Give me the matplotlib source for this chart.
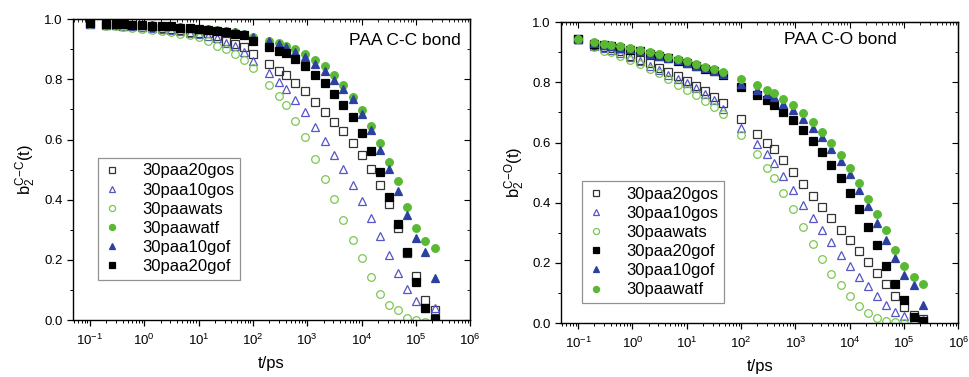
import numpy as np
import matplotlib.pyplot as plt
from matplotlib.ticker import LogLocator, MultipleLocator, NullFormatter

plt.rcParams['font.family'] = ['Liberation Sans', 'DejaVu Sans']
plt.rcParams['mathtext.fontset'] = 'custom'
plt.rcParams['mathtext.rm'] = 'Liberation Sans'
plt.rcParams['mathtext.it'] = 'Liberation Sans'

# time grid (ps)
t_cc = [0.1, 0.2, 0.3, 0.4, 0.6, 0.9, 1.4, 2.1, 3.1, 4.6, 6.8, 10, 14.7, 21.5, 31.6, 46.4, 68, 100,
        200, 300, 400, 600, 900, 1400, 2100, 3100, 4600, 6800,
        1e4, 1.5e4, 2.2e4, 3.2e4, 4.7e4, 6.8e4, 1e5, 1.5e5, 2.2e5]
t_co = [0.1, 0.2, 0.3, 0.4, 0.6, 0.9, 1.4, 2.1, 3.1, 4.6, 6.8, 10, 14.7, 21.5, 31.6, 46.4, 100,
        200, 300, 400, 600, 900, 1400, 2100, 3100, 4600, 6800,
        1e4, 1.5e4, 2.2e4, 3.2e4, 4.7e4, 6.8e4, 1e5, 1.5e5, 2.2e5]

# C-C bond
cc_20gos = [0.985, 0.982, 0.980, 0.979, 0.977, 0.975, 0.973, 0.970, 0.967, 0.963, 0.959, 0.954, 0.953, 0.944, 0.926, 0.918, 0.907, 0.884,
            0.851, 0.829, 0.814, 0.789, 0.762, 0.726, 0.692, 0.660, 0.630, 0.588,
            0.548, 0.501, 0.448, 0.385, 0.305, 0.222, 0.146, 0.067, 0.033]
cc_10gos = [0.985, 0.982, 0.980, 0.978, 0.976, 0.974, 0.971, 0.968, 0.964, 0.960, 0.955, 0.950, 0.945, 0.937, 0.922, 0.911, 0.890, 0.862,
            0.820, 0.793, 0.767, 0.732, 0.691, 0.643, 0.596, 0.549, 0.501, 0.448,
            0.397, 0.340, 0.280, 0.216, 0.157, 0.104, 0.063, 0.039, 0.039]
cc_wats = [0.985, 0.978, 0.976, 0.973, 0.971, 0.968, 0.965, 0.961, 0.957, 0.952, 0.947, 0.940, 0.927, 0.912, 0.901, 0.886, 0.865, 0.837,
           0.782, 0.745, 0.714, 0.663, 0.608, 0.537, 0.469, 0.401, 0.333, 0.266,
           0.205, 0.142, 0.086, 0.050, 0.033, 0.006, 0.000, -0.005, -0.010]
cc_watf = [0.987, 0.984, 0.984, 0.983, 0.982, 0.981, 0.980, 0.979, 0.977, 0.974, 0.972, 0.969, 0.966, 0.963, 0.960, 0.956, 0.952, 0.942,
           0.929, 0.920, 0.911, 0.901, 0.885, 0.865, 0.843, 0.813, 0.782, 0.743,
           0.698, 0.646, 0.588, 0.527, 0.462, 0.377, 0.307, 0.264, 0.238]
cc_10gof = [0.987, 0.984, 0.984, 0.983, 0.982, 0.981, 0.980, 0.979, 0.977, 0.974, 0.972, 0.969, 0.966, 0.963, 0.960, 0.956, 0.952, 0.942,
            0.927, 0.917, 0.909, 0.892, 0.874, 0.851, 0.828, 0.798, 0.767, 0.734,
            0.685, 0.632, 0.565, 0.501, 0.429, 0.349, 0.274, 0.225, 0.139]
cc_20gof = [0.987, 0.984, 0.984, 0.983, 0.982, 0.981, 0.979, 0.978, 0.976, 0.972, 0.970, 0.967, 0.963, 0.961, 0.957, 0.952, 0.948, 0.929,
            0.909, 0.896, 0.887, 0.867, 0.845, 0.816, 0.787, 0.753, 0.715, 0.676,
            0.621, 0.563, 0.491, 0.410, 0.319, 0.227, 0.127, 0.039, 0.003]

# C-O bond
co_20gos = [0.944, 0.925, 0.918, 0.913, 0.903, 0.889, 0.876, 0.863, 0.847, 0.833, 0.820, 0.806, 0.789, 0.770, 0.753, 0.733, 0.678,
            0.630, 0.600, 0.578, 0.541, 0.503, 0.461, 0.422, 0.386, 0.348, 0.311,
            0.276, 0.239, 0.203, 0.167, 0.130, 0.089, 0.053, 0.028, 0.013]
co_10gos = [0.944, 0.922, 0.915, 0.909, 0.898, 0.884, 0.870, 0.856, 0.841, 0.826, 0.812, 0.797, 0.781, 0.763, 0.742, 0.711, 0.650,
            0.594, 0.563, 0.531, 0.489, 0.444, 0.394, 0.348, 0.308, 0.269, 0.226,
            0.189, 0.153, 0.122, 0.089, 0.061, 0.037, 0.022, 0.014, 0.011]
co_wats = [0.944, 0.917, 0.906, 0.900, 0.889, 0.874, 0.861, 0.844, 0.830, 0.811, 0.793, 0.776, 0.758, 0.737, 0.717, 0.694, 0.624,
           0.561, 0.517, 0.483, 0.433, 0.380, 0.320, 0.264, 0.213, 0.164, 0.126,
           0.089, 0.056, 0.033, 0.017, 0.008, 0.002, 0.000, 0.000, -0.005]
co_20gof = [0.944, 0.929, 0.924, 0.920, 0.915, 0.909, 0.903, 0.895, 0.888, 0.880, 0.872, 0.864, 0.855, 0.846, 0.837, 0.826, 0.786,
            0.758, 0.741, 0.724, 0.700, 0.676, 0.641, 0.604, 0.569, 0.526, 0.483,
            0.431, 0.380, 0.320, 0.258, 0.191, 0.131, 0.076, 0.019, 0.006]
co_10gof = [0.944, 0.930, 0.925, 0.921, 0.916, 0.910, 0.904, 0.896, 0.889, 0.881, 0.873, 0.865, 0.856, 0.847, 0.838, 0.828, 0.794,
            0.774, 0.761, 0.750, 0.728, 0.709, 0.680, 0.650, 0.617, 0.580, 0.539,
            0.494, 0.444, 0.389, 0.333, 0.276, 0.217, 0.161, 0.126, 0.061]
co_watf = [0.944, 0.933, 0.928, 0.924, 0.920, 0.914, 0.908, 0.900, 0.893, 0.886, 0.878, 0.870, 0.861, 0.852, 0.844, 0.836, 0.811,
           0.791, 0.776, 0.764, 0.744, 0.724, 0.697, 0.669, 0.636, 0.598, 0.558,
           0.517, 0.467, 0.413, 0.361, 0.308, 0.244, 0.191, 0.152, 0.130]

styles = {
    '30paa20gos': dict(marker='s', mfc='none', mec='#333333'),
    '30paa10gos': dict(marker='^', mfc='none', mec='#5555c8'),
    '30paawats': dict(marker='o', mfc='none', mec='#7cc850'),
    '30paawatf': dict(marker='o', mfc='#5ab934', mec='#5ab934'),
    '30paa10gof': dict(marker='^', mfc='#2c40a0', mec='#2c40a0'),
    '30paa20gof': dict(marker='s', mfc='black', mec='black'),
}

cc_series = [('30paa20gos', cc_20gos), ('30paa10gos', cc_10gos), ('30paawats', cc_wats),
             ('30paawatf', cc_watf), ('30paa10gof', cc_10gof), ('30paa20gof', cc_20gof)]
co_series = [('30paa20gos', co_20gos), ('30paa10gos', co_10gos), ('30paawats', co_wats),
             ('30paa20gof', co_20gof), ('30paa10gof', co_10gof), ('30paawatf', co_watf)]

fig = plt.figure(figsize=(9.69, 3.77), dpi=100)
ax1 = fig.add_axes([0.0753, 0.151, 0.41, 0.798])
ax2 = fig.add_axes([0.579, 0.143, 0.41, 0.798])


def draw(ax, t, series, title, title_x, title_y, ylab, leg_anchor):
    for name, vals in series:
        ax.plot(t, vals, ls='none', ms=5.5, mew=0.9, label=name, **styles[name])
    ax.set_xscale('log')
    ax.set_xlim(10 ** -1.313, 1e6)
    ax.set_ylim(0, 1.0)
    ax.xaxis.set_major_locator(LogLocator(base=10, numticks=20))
    ax.xaxis.set_minor_locator(LogLocator(base=10, subs=np.arange(2, 10), numticks=20))
    ax.xaxis.set_minor_formatter(NullFormatter())
    ax.yaxis.set_major_locator(MultipleLocator(0.2))
    ax.yaxis.set_minor_locator(MultipleLocator(0.1))
    ax.yaxis.set_major_formatter(plt.FormatStrFormatter('%.1f'))
    ax.tick_params(which='both', direction='out', top=False, right=False, labelsize=9.5)
    ax.tick_params(axis='x', which='major', pad=5)
    ax.tick_params(which='major', length=4, width=0.9)
    ax.tick_params(which='minor', length=2.5, width=0.7)
    sec_x = ax.secondary_xaxis('top')
    sec_x.xaxis.set_major_locator(LogLocator(base=10, numticks=20))
    sec_x.xaxis.set_minor_locator(LogLocator(base=10, subs=np.arange(2, 10), numticks=20))
    sec_x.tick_params(which='both', direction='in', labeltop=False)
    sec_x.tick_params(which='major', length=4)
    sec_x.tick_params(which='minor', length=2.5)
    sec_y = ax.secondary_yaxis('right')
    sec_y.yaxis.set_major_locator(MultipleLocator(0.2))
    sec_y.yaxis.set_minor_locator(MultipleLocator(0.1))
    sec_y.tick_params(which='both', direction='in', labelright=False)
    sec_y.tick_params(which='major', length=4)
    sec_y.tick_params(which='minor', length=2.5)
    for s in ax.spines.values():
        s.set_linewidth(1.0)
    ax.set_xlabel('t/ps', fontsize=12, labelpad=6)
    ax.set_ylabel(ylab, fontsize=12, labelpad=4)
    ax.text(title_x, title_y, title, transform=ax.transAxes, ha='right', va='center', fontsize=12.5)
    leg = ax.legend(loc='lower left', bbox_to_anchor=leg_anchor, fontsize=12, frameon=True,
                    fancybox=False, edgecolor='#777777', handlelength=1.0, handletextpad=1.3,
                    borderpad=0.35, labelspacing=0.25, markerscale=0.8, borderaxespad=0)
    leg.get_frame().set_linewidth(0.9)


draw(ax1, t_cc, cc_series, 'PAA C-C bond', 0.975, 0.93, r'b$_2^{\mathrm{C\!-\!C}}$(t)', (0.063, 0.133))
draw(ax2, t_co, co_series, 'PAA C-O bond', 0.846, 0.943, r'b$_2^{\mathrm{C\!-\!O}}$(t)', (0.053, 0.066))

fig.savefig('out.png', dpi=100)
